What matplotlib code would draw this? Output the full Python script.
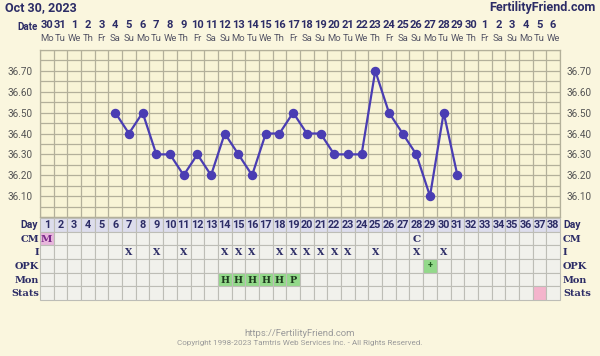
import matplotlib
matplotlib.use("Agg")
import matplotlib.pyplot as plt
import numpy as np
from matplotlib.transforms import blended_transform_factory
from matplotlib.patches import Rectangle

# ---------------- data ----------------
title = "Oct 30, 2023"
site = "FertilityFriend.com"
dates = ["30", "31"] + [str(d) for d in range(1, 31)] + [str(d) for d in range(1, 7)]
weekdays = ["Mo", "Tu", "We", "Th", "Fr", "Sa", "Su"] * 5 + ["Mo", "Tu", "We"]
cycle_days = list(range(1, 39))
temp_days = [6, 7, 8, 9, 10, 11, 12, 13, 14, 15, 16, 17, 18, 19, 20, 21, 22, 23, 24,
             25, 26, 27, 28, 29, 30, 31]
temps = [36.50, 36.40, 36.50, 36.30, 36.30, 36.20, 36.30, 36.20, 36.40, 36.30, 36.20,
         36.40, 36.40, 36.50, 36.40, 36.40, 36.30, 36.30, 36.30, 36.70, 36.50, 36.40,
         36.30, 36.10, 36.50, 36.20]
y_ticks = [36.10, 36.20, 36.30, 36.40, 36.50, 36.60, 36.70]
row_labels = ["CM", "I", "OPK", "Mon", "Stats"]
cm_entries = {1: "M", 28: "C"}
i_days = [7, 9, 11, 14, 15, 16, 18, 19, 20, 21, 22, 23, 25, 28, 30]
opk_entries = {29: "+"}
mon_entries = {14: "H", 15: "H", 16: "H", 17: "H", 18: "H", 19: "P"}
stats_days = [37]
footer1 = "https://FertilityFriend.com"
footer2 = "Copyright 1998-2023 Tamtris Web Services Inc. - All Rights Reserved."

# ---------------- style ----------------
W, H = 600, 356
BG = "#FAF6DE"
NAVY = "#2C2C66"
LINE = "#4A3DB3"
GRID = "#B3B09A"
CELL = "#F1F1EC"
CELL_EDGE = "#BDBDB6"
SANS = ["Roboto", "DejaVu Sans"]
SERIF = ["DejaVu Serif"]

fig = plt.figure(figsize=(W / 100, H / 100), dpi=100, facecolor=BG)

def fbox(x0, y0, x1, y1):
    return [x0 / W, 1 - y1 / H, (x1 - x0) / W, (y1 - y0) / H]

X0, X1 = 40, 560
ax = fig.add_axes(fbox(X0, 50, X1, 217))
ax.set_facecolor("#F8F4D6")
ax.set_xlim(0.5, 38.5)
ax.set_ylim(36.0, 36.8)
for xv in np.arange(0.5, 39, 1):
    ax.axvline(xv, color=GRID, lw=0.9, zorder=1)
for yv in np.arange(36.0, 36.81, 0.05):
    ax.axhline(yv, color=GRID, lw=0.9, zorder=1)
for s in ax.spines.values():
    s.set_color(GRID)
    s.set_linewidth(0.9)
ax.set_xticks([])
ax.set_yticks(y_ticks)
ax.set_yticklabels([f"{v:.2f}" for v in y_ticks], fontsize=7.2, color="#555555", family=SANS)
ax.tick_params(axis="y", length=0, pad=5, labelright=True, right=False)

ax.plot(temp_days, temps, color=LINE, lw=1.6, marker="o", markersize=5.8,
        markerfacecolor=LINE, markeredgecolor=LINE, zorder=3, clip_on=False)

# header
tr = blended_transform_factory(ax.transData, fig.transFigure)
for d, dt, wd in zip(cycle_days, dates, weekdays):
    ax.text(d, 1 - 25 / H, dt, transform=tr, ha="center", va="center",
            fontsize=8, fontweight="bold", color=NAVY, family=SANS)
    ax.text(d, 1 - 38.5 / H, wd, transform=tr, ha="center", va="center",
            fontsize=6.8, color="#555566", family=SANS)
fig.text(38 / W, 1 - 27 / H, "Date", ha="right", va="center", fontsize=7,
         fontweight="bold", color=NAVY, family=SANS)
fig.text(5 / W, 1 - 8 / H, title, ha="left", va="center", fontsize=9,
         fontweight="bold", color=NAVY, family=SANS)
fig.text(596 / W, 1 - 8 / H, site, ha="right", va="center", fontsize=9,
         fontweight="bold", color=NAVY, family=SANS)

# ---------------- table ----------------
tb = fig.add_axes(fbox(X0, 218, X1, 300))
tb.set_xlim(0.5, 38.5)
tb.set_ylim(6, 0)
tb.axis("off")
nrows = 6
for d in cycle_days:
    for r in range(nrows):
        fc = "#DDDDEC" if r == 0 else CELL
        if r == 1 and d in cm_entries and cm_entries[d] == "M":
            fc = "#E8B6DC"
        if r == 3 and d in opk_entries:
            fc = "#93D98A"
        if r == 4 and d in mon_entries:
            fc = "#93D98A"
        if r == 5 and d in stats_days:
            fc = "#F4B4CC"
        tb.add_patch(Rectangle((d - 0.5, r), 1, 1, facecolor=fc, edgecolor=CELL_EDGE,
                               lw=0.8, clip_on=False))
    tb.text(d, 0.5, str(d), ha="center", va="center", fontsize=7.8,
            fontweight="bold", color=NAVY, family=SANS)
for d, t in cm_entries.items():
    tb.text(d, 1.55, t, ha="center", va="center", fontsize=7.5, fontweight="bold",
            color="#7A2A8A" if t == "M" else NAVY, family=SERIF)
for d in i_days:
    tb.text(d, 2.55, "X", ha="center", va="center", fontsize=6.8, fontweight="bold",
            color=NAVY, family=SERIF)
for d, t in opk_entries.items():
    tb.text(d, 3.5, t, ha="center", va="center", fontsize=6.5, fontweight="bold",
            color="#1F5A1F", family=SANS)
for d, t in mon_entries.items():
    tb.text(d, 4.55, t, ha="center", va="center", fontsize=6.8, fontweight="bold",
            color="#1E3A1E", family=SERIF)

trt = blended_transform_factory(fig.transFigure, tb.transData)
tb.text(38 / W, 0.5, "Day", transform=trt, ha="right", va="center", fontsize=7.5,
        fontweight="bold", color=NAVY, family=SANS)
tb.text(563 / W, 0.5, "Day", transform=trt, ha="left", va="center", fontsize=7.5,
        fontweight="bold", color=NAVY, family=SANS)
for r, lab in enumerate(row_labels, start=1):
    tb.text(39 / W, r + 0.55, lab, transform=trt, ha="right", va="center", fontsize=7,
            fontweight="bold", color=NAVY, family=SERIF)
    tb.text(563 / W, r + 0.55, lab, transform=trt, ha="left", va="center", fontsize=7,
            fontweight="bold", color=NAVY, family=SERIF)

fig.text(0.5, 1 - 333 / H, footer1, ha="center", va="center", fontsize=6.8,
         color="#9A9A9A", family=SANS)
fig.text(0.5, 1 - 343.5 / H, footer2, ha="center", va="center", fontsize=5.8,
         color="#9A9A9A", family=SANS)

fig.savefig("out.png", dpi=100, facecolor=BG)
